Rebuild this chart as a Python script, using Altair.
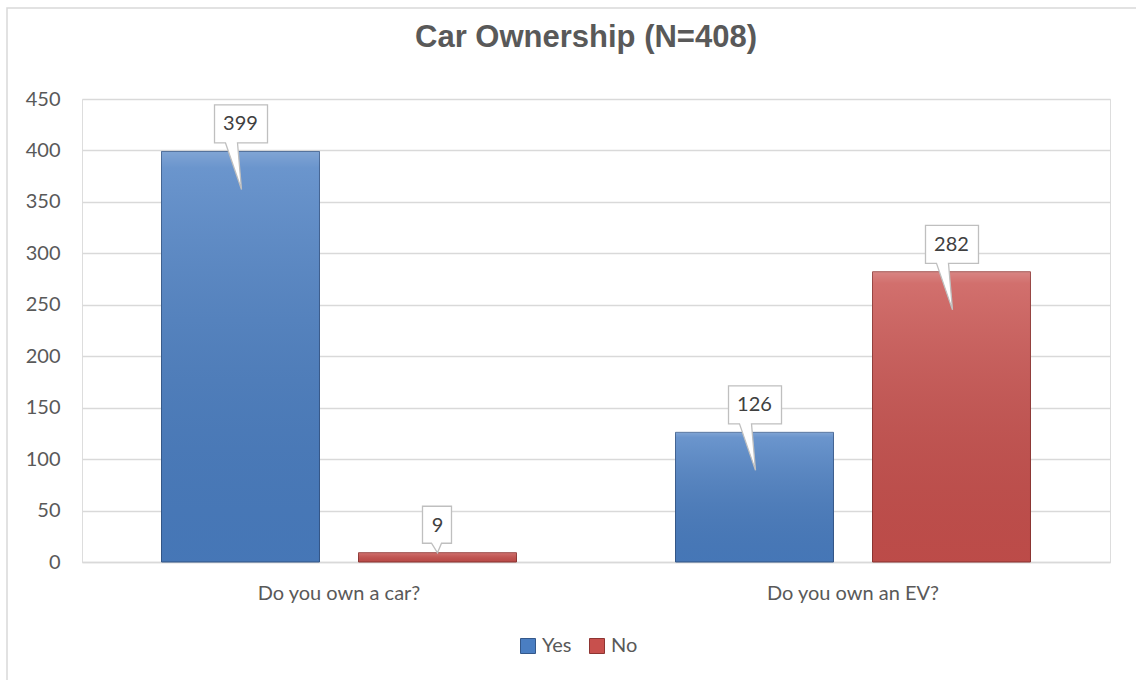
import altair as alt
import pandas as pd

questions = ["Do you own a car?", "Do you own an EV?"]
series = ["Yes", "No"]
yes_counts = [399, 126]
no_counts = [9, 282]
y_ticks = [0, 50, 100, 150, 200, 250, 300, 350, 400, 450]
title_text = "Car Ownership (N=408)"

rows = []
for q, y, n in zip(questions, yes_counts, no_counts):
    rows.append({"question": q, "series": "Yes", "count": y})
    rows.append({"question": q, "series": "No", "count": n})
df = pd.DataFrame(rows)
df["callout"] = df["count"].apply(lambda v: "wide" if len(str(v)) > 1 else "narrow")

FONT = "Lato"
TXT = "#595959"
BLUE = "#4a7ec2"
RED = "#c8504d"

WIDE = "M -26 -46.5 H 27 V -8.5 H -3 L 1 38 L -15 -8.5 H -26 Z"
NARROW = "M -15 -46.5 H 14 V -9.5 H 4 L 0 0 L -6 -9.5 H -15 Z"

x_enc = alt.X("question:N", sort=questions, title=None,
              scale=alt.Scale(paddingInner=0, paddingOuter=0),
              axis=alt.Axis(labelAngle=0, labelFont=FONT, labelFontSize=20, labelColor=TXT,
                            ticks=False, domainColor="#d9d9d9", domainWidth=1.3,
                            labelPadding=21, grid=False))
xo_enc = alt.XOffset("series:N", sort=series,
                     scale=alt.Scale(domain=series, paddingInner=0.198, paddingOuter=0.4036))
y_enc = alt.Y("count:Q", title=None,
              scale=alt.Scale(domain=[0, 450], nice=False),
              axis=alt.Axis(values=y_ticks, labelFont=FONT, labelFontSize=20, labelColor=TXT,
                            ticks=False, domain=False, gridColor="#d9d9d9", gridWidth=1.3,
                            labelPadding=22))

base = alt.Chart(df)

bars = base.mark_bar(strokeWidth=1).encode(
    x=x_enc, xOffset=xo_enc, y=y_enc,
    color=alt.Color("series:N", sort=series,
                    scale=alt.Scale(domain=series, range=[BLUE, RED]),
                    legend=alt.Legend(title=None, orient="none", legendX=436, legendY=537,
                                      direction="horizontal", symbolType="square",
                                      symbolSize=225, labelFont=FONT, labelFontSize=20,
                                      labelColor=TXT, labelOffset=4, columnPadding=15,
                                      padding=0, symbolStrokeWidth=1, symbolOpacity=1)),
    stroke=alt.Stroke("series:N", sort=series,
                      scale=alt.Scale(domain=series, range=["#34588a", "#8e3532"]),
                      legend=None),
)

overlay = base.mark_bar(
    fill=alt.Gradient(
        gradient="linear", x1=0, x2=0, y1=0, y2=1,
        stops=[alt.GradientStop(offset=0, color="rgba(255,255,255,0.30)"),
               alt.GradientStop(offset=0.04, color="rgba(255,255,255,0.18)"),
               alt.GradientStop(offset=1, color="rgba(0,0,0,0.06)")]),
).encode(x=x_enc, xOffset=xo_enc, y=y_enc)

callouts = base.mark_point(filled=True, fill="white", stroke="#bfbfbf", strokeWidth=1.3,
                           size=4, opacity=1).encode(
    x=x_enc, xOffset=xo_enc, y=y_enc,
    shape=alt.Shape("callout:N", scale=alt.Scale(domain=["wide", "narrow"], range=[WIDE, NARROW]),
                    legend=None),
)

labels = base.mark_text(dy=-27, baseline="middle", align="center", font=FONT, fontSize=20,
                        color="#404040").encode(
    x=x_enc, xOffset=xo_enc, y=y_enc, text=alt.Text("count:Q"))

deco = alt.Data(values=[{"t": title_text}])

border = alt.Chart(deco).mark_rect(
    fill=None, stroke="#d9d9d9", strokeWidth=1.5).encode(
    x=alt.value(-75), x2=alt.value(1100), y=alt.value(-91), y2=alt.value(640))

title = alt.Chart(deco).mark_text(
    font="Liberation Sans", fontSize=31, fontWeight="bold", color=TXT,
    align="center", baseline="alphabetic").encode(
    x=alt.value(504), y=alt.value(-52), text="t:N")

chart = alt.layer(border, title, bars, overlay, callouts, labels).properties(
    width=1028, height=463,
    autosize=alt.AutoSizeParams(type="none"),
    padding={"left": 82, "top": 99, "right": 26, "bottom": 118},
).configure_view(stroke=None).configure(background="white")

chart.save("out.html", embed_options={"renderer": "svg", "actions": False})
